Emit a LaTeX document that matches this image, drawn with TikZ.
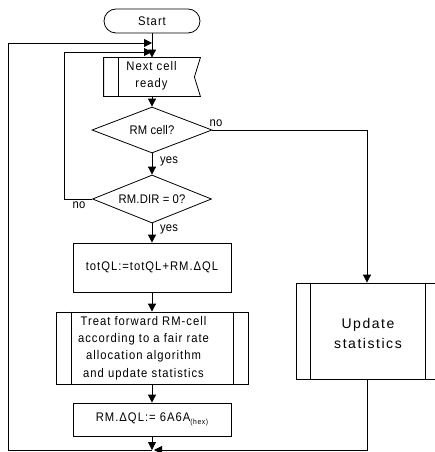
\documentclass[tikz,border=0pt]{standalone}
\usepackage{fontspec}
\setmainfont{Liberation Sans}
\newfontfamily\fa{Liberation Sans}[FakeStretch=0.9, LetterSpace=8]
\newfontfamily\fd{Liberation Sans}[FakeStretch=0.9, LetterSpace=1.5]
\newfontfamily\fu{Liberation Sans}[LetterSpace=11]
\usetikzlibrary{shapes.geometric,arrows.meta}
\begin{document}
\begin{tikzpicture}[x=1pt,y=-1pt, line width=0.8pt,
  arr/.style={-{Triangle[length=8pt,width=8pt]}},
  txt/.style={font=\fa\fontsize{12.5}{17.3}\selectfont, align=center},
  box/.style={draw, rectangle, inner sep=0pt, txt},
  dia/.style={draw, diamond, aspect=2.6, inner sep=0pt, font=\fd\fontsize{12.5}{14}\selectfont},
  lbl/.style={inner sep=0pt, font=\fd\fontsize{12.5}{14}\selectfont}]
\useasboundingbox (0,0) rectangle (435,452);
% nodes
\node[draw, rounded corners=12pt, minimum width=96pt, minimum height=24pt, inner sep=0pt, txt] (start) at (152,21) {Start};
\node[txt, minimum width=96pt, minimum height=38pt, inner sep=0pt] (next) at (152,77) {};
\node[txt, inner sep=0pt] (nexttxt) at (151.5,76) {Next cell\\ready};
\draw (next.north west) -- (next.north east) -- ([xshift=-6pt]next.east) -- (next.south east) -- (next.south west) -- cycle;
\draw ([xshift=15pt]next.north west) -- ([xshift=15pt]next.south west);
\node[dia, minimum width=120pt, minimum height=46pt] (rmc) at (152,130) {RM cell?};
\node[dia, minimum width=119pt, minimum height=48pt] (dir) at (152,199) {RM.DIR = 0?};
\node[box, minimum width=158pt, minimum height=49pt] (tot) at (152,267.5) {totQL:=totQL+RM.ΔQL};
\node[draw, rectangle, inner sep=0pt, minimum width=192pt, minimum height=72pt] (treat) at (152,348) {};
\node[txt, inner sep=0pt] (treattxt) at (143.5,348) {Treat forward RM-cell\\according to a fair rate\\allocation algorithm\\and update statistics};
\draw ([xshift=16pt]treat.north west) -- ([xshift=16pt]treat.south west);
\draw ([xshift=-15pt]treat.north east) -- ([xshift=-15pt]treat.south east);
\node[box, minimum width=158pt, minimum height=33pt] (dql) at (152,419.5) {RM.ΔQL:= 6A6A\raisebox{-3pt}{\fontsize{7.5}{8}\selectfont(hex)}};
\node[draw, rectangle, inner sep=0pt, minimum width=142pt, minimum height=96pt] (upd) at (367,331) {};
\node[inner sep=0pt, align=center, font=\fu\fontsize{14}{20}\selectfont] (updtxt) at (368,333) {Update\\statistics};
\draw ([xshift=15pt]upd.north west) -- ([xshift=15pt]upd.south west);
\draw ([xshift=-13pt]upd.north east) -- ([xshift=-13pt]upd.south east);
% labels
\node[lbl] (no1) at (216,123) {no};
\node[lbl] (yes1) at (169,161) {yes};
\node[lbl] (no2) at (79,205) {no};
\node[lbl] (yes2) at (169,229) {yes};
% coordinates
\coordinate (m) at (152,450);
\coordinate (mr) at (154,450);
\coordinate (bl) at (8,450);
\coordinate (tl) at (8,43);
\coordinate (t1) at (152,43);
\coordinate (il) at (64,199);
\coordinate (ilt) at (64,52);
\coordinate (t2) at (152,52);
% connectors
\draw[arr] (start) -- (next);
\draw[arr] (next) -- (rmc);
\draw[arr] (rmc) -- (dir);
\draw[arr] (dir) -- (tot);
\draw[arr] (tot) -- (treat);
\draw[arr] (treat) -- (dql);
\draw[arr] (dql) -- (m);
\draw[arr] (rmc.east) -| (upd.north);
\draw[arr] (upd.south) |- (mr);
\draw[arr] (m) -- (bl) -- (tl) -- (t1);
\draw[arr] (dir.west) -- (il) -- (ilt) -- (t2);
\end{tikzpicture}
\end{document}
